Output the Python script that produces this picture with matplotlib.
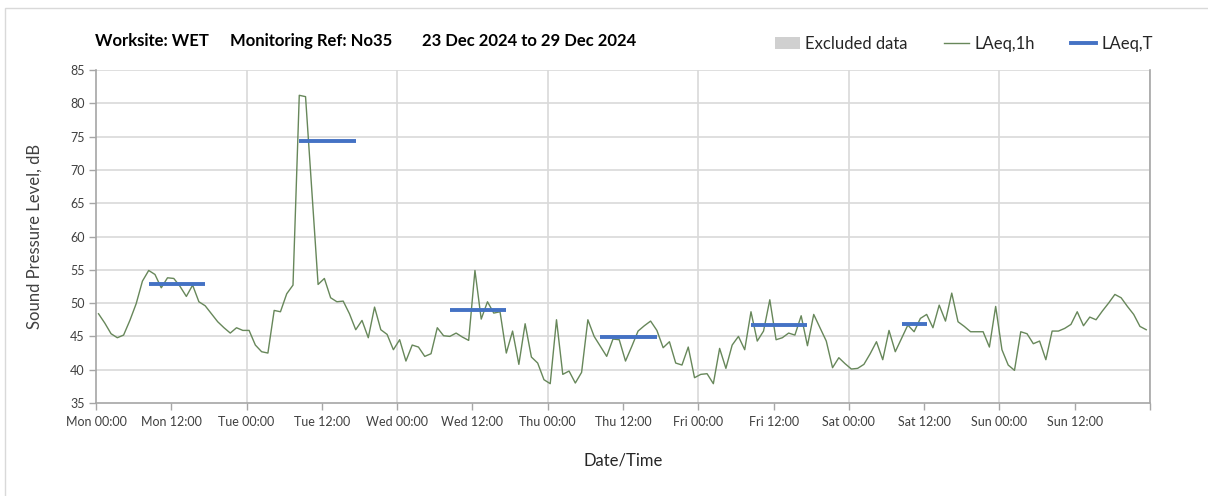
import matplotlib
matplotlib.use("Agg")
import matplotlib.pyplot as plt  # noqa: E402
from matplotlib.lines import Line2D  # noqa: E402
from matplotlib.patches import Patch, Rectangle  # noqa: E402
import numpy as np  # noqa: E402

plt.rcParams["font.family"] = ["Lato", "DejaVu Sans"]

# hourly LAeq,1h values, Mon 23 Dec 00:00 onwards (168 hours)
laeq_1h = [
    48.4, 47.0, 45.4, 44.8, 45.2, 47.4, 49.9, 53.3, 54.9, 54.3,
    52.3, 53.8, 53.7, 52.5, 51.0, 52.7, 50.2, 49.6, 48.4, 47.2,
    46.3, 45.5, 46.3, 45.9, 45.9, 43.7, 42.7, 42.5, 48.9, 48.7,
    51.4, 52.7, 81.2, 81.0, 67.0, 52.8, 53.7, 50.8, 50.2, 50.3,
    48.4, 46.0, 47.4, 44.8, 49.4, 46.0, 45.3, 43.0, 44.5, 41.3,
    43.7, 43.4, 42.0, 42.4, 46.3, 45.1, 45.0, 45.5, 44.9, 44.4,
    54.9, 47.6, 50.2, 48.5, 48.7, 42.5, 45.8, 40.8, 46.9, 41.9,
    41.0, 38.5, 37.9, 47.5, 39.3, 39.8, 38.0, 39.6, 47.5, 45.0,
    43.5, 42.0, 44.6, 44.5, 41.3, 43.5, 45.8, 46.6, 47.3, 45.9,
    43.3, 44.2, 41.0, 40.7, 43.4, 38.8, 39.3, 39.4, 37.9, 43.2,
    40.2, 43.7, 45.0, 43.0, 48.7, 44.3, 45.8, 50.5, 44.5, 44.8,
    45.5, 45.2, 48.1, 43.6, 48.3, 46.3, 44.3, 40.3, 41.8, 40.9,
    40.1, 40.2, 40.8, 42.4, 44.2, 41.5, 45.9, 42.7, 44.7, 46.7,
    45.7, 47.7, 48.3, 46.3, 49.7, 47.3, 51.5, 47.2, 46.5, 45.7,
    45.7, 45.7, 43.4, 49.5, 43.0, 40.7, 39.9, 45.7, 45.4, 43.9,
    44.3, 41.5, 45.8, 45.8, 46.2, 46.8, 48.7, 46.6, 47.9, 47.5,
    48.8, 50.0, 51.3, 50.8, 49.5, 48.3, 46.5, 46.0,
]

# LAeq,T per working day: day index, first hour, last hour, level
period_day = [0, 1, 2, 3, 4, 5]
period_start = [8, 8, 8, 8, 8, 8]
period_end = [17, 17, 17, 17, 17, 12]
laeq_t = [52.85, 74.35, 48.9, 44.85, 46.75, 46.9]

tick_labels = [
    "Mon 00:00", "Mon 12:00", "Tue 00:00", "Tue 12:00", "Wed 00:00",
    "Wed 12:00", "Thu 00:00", "Thu 12:00", "Fri 00:00", "Fri 12:00",
    "Sat 00:00", "Sat 12:00", "Sun 00:00", "Sun 12:00", "",
]

green = "#67875a"
blue = "#4472c4"
grid_c = "#d9d9d9"
axis_c = "#a6a6a6"
text_c = "#404040"

W, H = 1208, 496
fig = plt.figure(figsize=(W / 100, H / 100), dpi=100)
ax = fig.add_axes([96 / W, 1 - 403 / H, (1150 - 96) / W, (403 - 70) / H])

hours = np.arange(len(laeq_1h)) + 0.4
ax.plot(hours, laeq_1h, color=green, lw=1.0, zorder=3)

for d, s, e, v in zip(period_day, period_start, period_end, laeq_t):
    x0 = d * 24 + s + 0.4
    x1 = d * 24 + e + 0.4
    ax.plot([x0, x1], [v, v], color=blue, lw=2.8, solid_capstyle="butt", zorder=4)

ax.set_xlim(0, 168)
ax.set_ylim(35, 85)
ax.set_xticks(np.arange(0, 169, 12))
ax.set_xticklabels(tick_labels, fontsize=9, color=text_c)
ax.set_yticks(np.arange(35, 86, 5))
ax.tick_params(axis="y", labelsize=9, labelcolor=text_c, color=axis_c,
               length=5, width=1, direction="out", pad=3)
ax.tick_params(axis="x", color=axis_c, length=5, width=1, direction="out", pad=4)

# gridlines: horizontal every 5 dB, vertical at day boundaries only
for y in np.arange(40, 86, 5):
    ax.axhline(y, color=grid_c, lw=1.2, zorder=1)
for x in np.arange(24, 169, 24):
    ax.axvline(x, color=grid_c, lw=1.2, zorder=1)

for side in ["top", "right"]:
    ax.spines[side].set_visible(False)
ax.spines["left"].set_color(axis_c)
ax.spines["bottom"].set_color(axis_c)
ax.spines["left"].set_linewidth(1.2)
ax.spines["bottom"].set_linewidth(1.2)
ax.plot([168, 168], [35, 85], color=axis_c, lw=1.2, clip_on=False, zorder=2)

ax.set_ylabel("Sound Pressure Level, dB", fontsize=12, color=text_c, labelpad=20)
ax.set_xlabel("Date/Time", fontsize=12, color="#262626", labelpad=18)

# title pieces
ty = 1 - 41 / H
fig.text(95 / W, ty, "Worksite: WET", fontsize=12, fontweight="bold", va="center")
fig.text(230 / W, ty, "Monitoring Ref: No35", fontsize=12, fontweight="bold", va="center")
fig.text(422 / W, ty, "23 Dec 2024 to 29 Dec 2024", fontsize=12, fontweight="bold", va="center")

handles = [
    Patch(facecolor="#d0d0d0", edgecolor="none"),
    Line2D([0], [0], color=green, lw=1.0),
    Line2D([0], [0], color=blue, lw=2.8),
]
fig.legend(handles, ["Excluded data", "LAeq,1h", "LAeq,T"], loc="center left",
           bbox_to_anchor=(760 / W, 1 - 44 / H), ncol=3, frameon=False,
           fontsize=12, handlelength=1.5, handleheight=0.7, handletextpad=0.3,
           columnspacing=2.2, labelcolor="#262626")

# outer chart frame (only left and top edges fall inside the image)
fig.patches.append(Rectangle((5 / W, -0.2), 1.2, 1.2 - 8 / H, transform=fig.transFigure,
                             fill=False, edgecolor="#d9d9d9", lw=1.0))

fig.savefig("out.png", dpi=100, facecolor="white")
